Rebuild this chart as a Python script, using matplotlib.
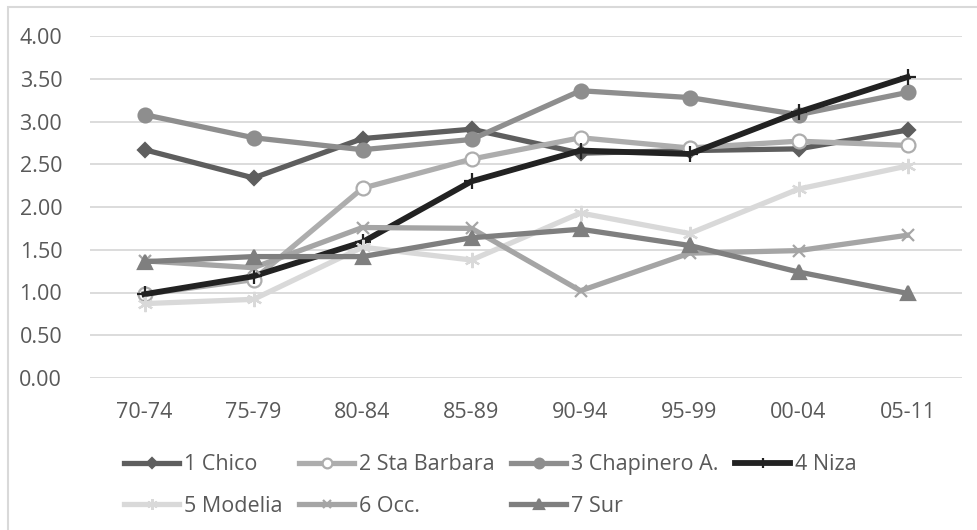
import matplotlib
matplotlib.use("Agg")
import matplotlib.pyplot as plt
from matplotlib.patches import Rectangle

plt.rcParams['font.family'] = ['Open Sans', 'DejaVu Sans']

periods = ['70-74', '75-79', '80-84', '85-89', '90-94', '95-99', '00-04', '05-11']

chico = [2.67, 2.34, 2.80, 2.91, 2.63, 2.66, 2.68, 2.90]
sta_barbara = [0.98, 1.15, 2.22, 2.56, 2.81, 2.69, 2.77, 2.72]
chapinero = [3.08, 2.81, 2.67, 2.79, 3.36, 3.28, 3.08, 3.34]
niza = [0.98, 1.19, 1.59, 2.30, 2.66, 2.62, 3.11, 3.52]
modelia = [0.87, 0.92, 1.53, 1.38, 1.93, 1.69, 2.21, 2.48]
occ = [1.37, 1.29, 1.76, 1.75, 1.02, 1.46, 1.49, 1.67]
sur = [1.36, 1.42, 1.42, 1.64, 1.74, 1.55, 1.24, 0.99]

names = ['1 Chico', '2 Sta Barbara', '3 Chapinero A.', '4 Niza',
         '5 Modelia', '6 Occ.', '7 Sur']
series = [chico, sta_barbara, chapinero, niza, modelia, occ, sur]

# line colour, marker, marker face, marker size
styles = [
    ('#5E5E5E', 'D', '#5E5E5E', 7),
    ('#ADADAD', 'o', 'white', 10),
    ('#8E8E8E', 'o', '#8E8E8E', 10),
    ('#222222', '+', '#222222', 11),
    ('#D9D9D9', (6, 2, 0), '#D9D9D9', 11),
    ('#A5A5A5', 'x', '#A5A5A5', 9),
    ('#7F7F7F', '^', '#7F7F7F', 10),
]

txt = '#595959'
fs = 15.5

fig = plt.figure(figsize=(9.78, 5.30), dpi=100)
ax = fig.add_axes([90/978, 1-378/530, 872/978, 342/530])

x = list(range(len(periods)))
handles = []
for vals, name, (col, mk, face, ms) in zip(series, names, styles):
    lw = 4.2 if name == '4 Niza' else 3.8
    h, = ax.plot(x, vals, color=col, lw=lw, marker=mk, markersize=ms,
                 markerfacecolor=face, markeredgecolor=col,
                 markeredgewidth=1.6, label=name, solid_joinstyle='round',
                 clip_on=False)
    handles.append(h)

ax.set_xlim(-0.5, len(periods) - 0.5)
ax.set_ylim(0, 4)
ax.set_yticks([0, 0.5, 1, 1.5, 2, 2.5, 3, 3.5, 4])
ax.set_yticklabels(['%.2f' % v for v in ax.get_yticks()])
ax.set_xticks(x)
ax.set_xticklabels(periods)
ax.grid(axis='y', color='#D9D9D9', lw=1.3)
ax.set_axisbelow(True)
for s in ax.spines.values():
    s.set_visible(False)
ax.tick_params(axis='both', length=0, labelsize=fs, labelcolor=txt)
ax.tick_params(axis='y', pad=20)
ax.tick_params(axis='x', pad=17)

order = [0, 4, 1, 5, 2, 6, 3]
leg = fig.legend([handles[i] for i in order], [names[i] for i in order],
                 ncol=4, loc='upper left', bbox_to_anchor=(118/978, 1-448/530),
                 frameon=False, fontsize=fs, handlelength=2.55,
                 handletextpad=0.2, columnspacing=0.8, labelspacing=0.95,
                 markerscale=0.7, borderaxespad=0, borderpad=0.3)
for t in leg.get_texts():
    t.set_color(txt)

fig.add_artist(Rectangle((8/978, -0.05), 1.0, 1.05 - 7/530,
                         transform=fig.transFigure, fill=False,
                         edgecolor='#D9D9D9', lw=1.5))

fig.savefig('out.png', dpi=100)
